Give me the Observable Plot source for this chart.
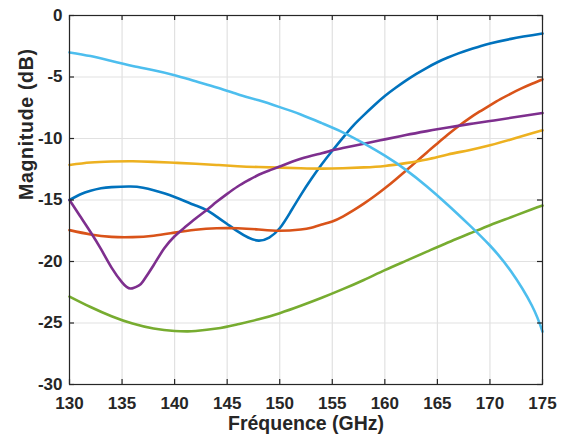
<!DOCTYPE html>
<html>
<head>
<meta charset="utf-8">
<script src="https://cdn.jsdelivr.net/npm/d3@7"></script>
<script src="https://cdn.jsdelivr.net/npm/@observablehq/plot@0.6"></script>
<style>
  html, body { margin: 0; padding: 0; background: white; }
</style>
</head>
<body>
<div id="chart"></div>
<script>
const xTicks = [130, 135, 140, 145, 150, 155, 160, 165, 170, 175];
const yTicks = [0, -5, -10, -15, -20, -25, -30];
const xLabel = "Fréquence (GHz)";
const yLabel = "Magnitude (dB)";

const blueF = [130,131,132,133,134,135.8,137,138,139,140,141,142,143,144,145,146,147,148,149,150,151,152,153,154,155,156,157,158,159,160,161,162,163,164,165,166,167,168,169,170,172,175];
const blueV = [-15.0,-14.55,-14.25,-14.05,-13.95,-13.9,-14.0,-14.2,-14.45,-14.75,-15.1,-15.45,-15.8,-16.35,-16.95,-17.55,-18.05,-18.3,-18.05,-17.3,-16.0,-14.6,-13.3,-12.1,-11.0,-9.95,-8.95,-8.1,-7.3,-6.55,-5.9,-5.3,-4.75,-4.25,-3.8,-3.42,-3.08,-2.78,-2.52,-2.28,-1.9,-1.47];

const orangeF = [130,132,134,136,138,140,142,144,146,148,150,152,153,154,155,156,157,158,159,160,161,162,163,164,165,166,167,168,169,170,171,172,173,174,175];
const orangeV = [-17.45,-17.8,-18.0,-18.02,-17.9,-17.65,-17.42,-17.3,-17.3,-17.4,-17.5,-17.4,-17.25,-17.0,-16.75,-16.35,-15.85,-15.3,-14.7,-14.05,-13.35,-12.62,-11.88,-11.13,-10.4,-9.68,-9.0,-8.38,-7.82,-7.3,-6.8,-6.35,-5.93,-5.55,-5.2];

const yellowF = [130,132,134,136,138,140,142,144,146,148,150,152,154,156,158,160,162,164,166,168,170,172,174,175];
const yellowV = [-12.15,-11.95,-11.87,-11.85,-11.9,-11.97,-12.05,-12.15,-12.25,-12.32,-12.37,-12.42,-12.45,-12.42,-12.35,-12.23,-12.0,-11.7,-11.3,-10.95,-10.55,-10.08,-9.58,-9.33];

const purpleF = [130,131,132,133,134,135,135.8,136.6,137,138,139,140,141,142,143,144,145,146,147,148,149,150,152,154,155,156,158,160,162,164,166,168,170,172,175];
const purpleV = [-15.0,-16.3,-17.6,-19.0,-20.5,-21.7,-22.2,-21.95,-21.6,-20.3,-18.95,-17.95,-17.2,-16.5,-15.85,-15.15,-14.5,-13.9,-13.4,-12.95,-12.6,-12.28,-11.65,-11.2,-10.96,-10.78,-10.42,-10.07,-9.72,-9.4,-9.1,-8.83,-8.58,-8.32,-7.93];

const greenF = [130,132,134,136,138,140,141.2,142,144,146,148,150,152,154,156,158,160,162,164,166,168,170,172,174,175];
const greenV = [-22.85,-23.7,-24.45,-25.05,-25.45,-25.65,-25.68,-25.65,-25.45,-25.1,-24.7,-24.2,-23.6,-22.95,-22.25,-21.5,-20.7,-19.95,-19.2,-18.45,-17.75,-17.05,-16.4,-15.75,-15.45];

const skyF = [130,132,134,136,138,140,142,144,146,148,150,152,154,156,158,160,162,164,166,168,170,172,174,175];
const skyV = [-3.0,-3.3,-3.7,-4.1,-4.45,-4.85,-5.35,-5.85,-6.4,-6.9,-7.45,-8.05,-8.75,-9.5,-10.4,-11.4,-12.55,-13.9,-15.4,-17.0,-18.7,-20.8,-23.6,-25.7];

const series = [
  {f: blueF, v: blueV, color: "#0072BD"},
  {f: orangeF, v: orangeV, color: "#D95319"},
  {f: yellowF, v: yellowV, color: "#EDB120"},
  {f: purpleF, v: purpleV, color: "#7E2F8E"},
  {f: greenF, v: greenV, color: "#77AC30"},
  {f: skyF, v: skyV, color: "#4DBEEE"}
];

const W = 563, H = 441, ML = 69, MR = 21, MT = 15, MB = 57;
const plotW = W - ML - MR, plotH = H - MT - MB;
const tickLen = 5;
const ink = "#262626";

const lineMarks = series.map(s =>
  Plot.line(s.f.map((f, i) => ({f, v: s.v[i]})), {
    x: "f", y: "v", stroke: s.color, strokeWidth: 2.6, curve: "natural"
  })
);

const chart = Plot.plot({
  width: W, height: H,
  marginLeft: ML, marginRight: MR, marginTop: MT, marginBottom: MB,
  x: {domain: [130, 175]},
  y: {domain: [-30, 0]},
  style: {fontFamily: "'Liberation Sans', Arial, sans-serif", fontWeight: "bold", color: ink, background: "white", overflow: "visible"},
  marks: [
    Plot.gridX(xTicks, {stroke: "#e1e1e1", strokeOpacity: 1, strokeWidth: 1.2}),
    Plot.gridY(yTicks, {stroke: "#e1e1e1", strokeOpacity: 1, strokeWidth: 1.2}),
    ...lineMarks,
    Plot.frame({stroke: ink, strokeWidth: 1.2}),
    Plot.ruleX(xTicks, {x: d => d, insetTop: plotH - tickLen, stroke: ink, strokeWidth: 1.2}),
    Plot.ruleX(xTicks, {x: d => d, insetBottom: plotH - tickLen, stroke: ink, strokeWidth: 1.2}),
    Plot.ruleY(yTicks, {y: d => d, insetRight: plotW - tickLen, stroke: ink, strokeWidth: 1.2}),
    Plot.ruleY(yTicks, {y: d => d, insetLeft: plotW - tickLen, stroke: ink, strokeWidth: 1.2}),
    Plot.axisX(xTicks, {tickSize: 0, tickPadding: 12, fontSize: 17, label: null, tickFormat: d => String(d), fill: ink}),
    Plot.axisY(yTicks, {tickSize: 0, tickPadding: 7, fontSize: 17, label: null, tickFormat: d => String(d), fill: ink}),
    Plot.text([xLabel], {text: d => d, frameAnchor: "bottom", dy: 45, fontSize: 19.5, fontWeight: "bold", fill: ink}),
    Plot.text([yLabel], {text: d => d, frameAnchor: "left", dx: -43, rotate: -90, fontSize: 19.5, fontWeight: "bold", fill: ink})
  ]
});

d3.select(chart).selectAll("text").filter(function() { return this.textContent === yLabel; })
  .style("letter-spacing", "0.7px");

document.getElementById("chart").appendChild(chart);
</script>
</body>
</html>
